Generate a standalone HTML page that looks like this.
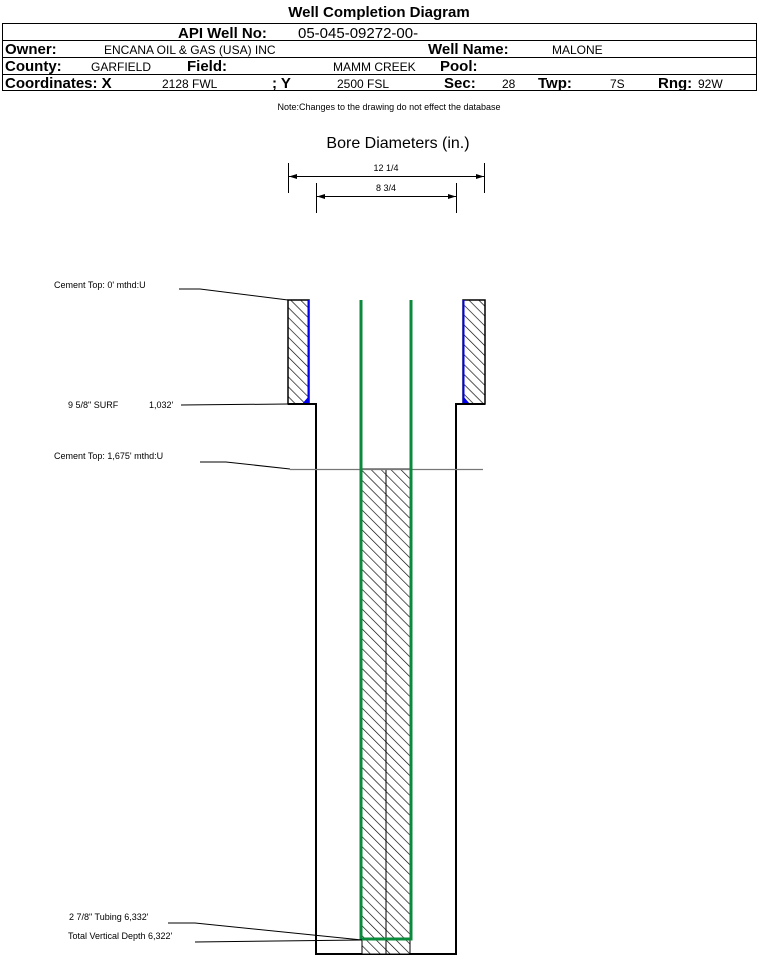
<!DOCTYPE html>
<html><head><meta charset="utf-8"><style>
body{margin:0;background:#fff;}
svg{display:block;font-family:"Liberation Sans",Arial,sans-serif;}
</style></head><body>
<svg width="759" height="956" viewBox="0 0 759 956" xmlns="http://www.w3.org/2000/svg">
<defs>
<pattern id="h" patternUnits="userSpaceOnUse" width="7" height="7" patternTransform="rotate(-45)">
<rect width="7" height="7" fill="#fff"/><line x1="0" y1="0" x2="0" y2="7" stroke="#000" stroke-width="1.3"/>
</pattern>
</defs>
<text x="379" y="17" text-anchor="middle" font-size="15" font-weight="bold">Well Completion Diagram</text>
<rect x="2.5" y="23.5" width="754" height="67" fill="none" stroke="#000"/>
<line x1="2" y1="40.5" x2="757" y2="40.5" stroke="#000"/>
<line x1="2" y1="57.5" x2="757" y2="57.5" stroke="#000"/>
<line x1="2" y1="74.5" x2="757" y2="74.5" stroke="#000"/>
<g font-size="15" font-weight="bold">
<text x="178" y="38">API Well No:</text>
<text x="5" y="54">Owner:</text><text x="428" y="54">Well Name:</text>
<text x="5" y="71">County:</text><text x="187" y="71">Field:</text><text x="440" y="71">Pool:</text>
<text x="5" y="88">Coordinates: X</text><text x="272" y="88">; Y</text><text x="444" y="88">Sec:</text><text x="538" y="88">Twp:</text><text x="658" y="88">Rng:</text>
</g>
<g font-size="15"><text x="298" y="38">05-045-09272-00-</text></g>
<g font-size="12">
<text x="104" y="54">ENCANA OIL &amp; GAS (USA) INC</text><text x="552" y="54">MALONE</text>
<text x="91" y="71">GARFIELD</text><text x="333" y="71">MAMM CREEK</text>
<text x="162" y="88">2128 FWL</text><text x="337" y="88">2500 FSL</text><text x="502" y="88">28</text><text x="610" y="88">7S</text><text x="698" y="88">92W</text>
</g>
<text x="389" y="110" text-anchor="middle" font-size="9">Note:Changes to the drawing do not effect the database</text>
<text x="398" y="148" text-anchor="middle" font-size="16">Bore Diameters (in.)</text>
<g stroke="#000" stroke-width="1">
<line x1="288.5" y1="163" x2="288.5" y2="193"/><line x1="484.5" y1="163" x2="484.5" y2="193"/>
<line x1="289" y1="176.5" x2="484" y2="176.5"/>
<line x1="316.5" y1="183" x2="316.5" y2="213"/><line x1="456.5" y1="183" x2="456.5" y2="213"/>
<line x1="317" y1="196.5" x2="456" y2="196.5"/>
</g>
<g fill="#000">
<polygon points="289,176.5 297,174 297,179"/><polygon points="484,176.5 476,174 476,179"/>
<polygon points="317,196.5 325,194 325,199"/><polygon points="456,196.5 448,194 448,199"/>
</g>
<text x="386" y="171" text-anchor="middle" font-size="9">12 1/4</text>
<text x="386" y="191" text-anchor="middle" font-size="9">8 3/4</text>
<rect x="288" y="300" width="21" height="104" fill="url(#h)" stroke="#000" stroke-width="1.5"/>
<rect x="463" y="300" width="22" height="104" fill="url(#h)" stroke="#000" stroke-width="1.5"/>
<line x1="308.5" y1="300" x2="308.5" y2="404" stroke="#0000ee" stroke-width="2"/>
<line x1="463.5" y1="300" x2="463.5" y2="404" stroke="#0000ee" stroke-width="2"/>
<polygon points="302,404 309,404 309,396" fill="#0000ee"/>
<polygon points="463,404 470,404 463,396" fill="#0000ee"/>
<polyline points="288,404 316,404 316,954 456,954 456,404 485,404" fill="none" stroke="#000" stroke-width="2"/>
<rect x="362" y="469" width="48" height="485" fill="url(#h)" stroke="#000" stroke-width="1"/>
<line x1="386" y1="469" x2="386" y2="954" stroke="#000"/>
<line x1="290" y1="469.5" x2="483" y2="469.5" stroke="#777" stroke-width="1.2"/>
<polyline points="361,300 361,939 411,939 411,300" fill="none" stroke="#0a8a3a" stroke-width="3"/>
<g font-size="9">
<text x="54" y="288">Cement Top: 0' mthd:U</text>
<text x="68" y="408">9 5/8" SURF</text><text x="149" y="408">1,032'</text>
<text x="54" y="459">Cement Top: 1,675' mthd:U</text>
<text x="69" y="920">2 7/8" Tubing 6,332'</text>
<text x="68" y="939">Total Vertical Depth 6,322'</text>
</g>
<g stroke="#000" stroke-width="1" fill="none">
<polyline points="179,289 200,289 288,300"/>
<polyline points="181,405 288,404"/>
<polyline points="200,462 226,462 290,469"/>
<polyline points="168,923 195,923 362,940"/>
<polyline points="195,942 362,940"/>
</g>
</svg>
</body></html>
